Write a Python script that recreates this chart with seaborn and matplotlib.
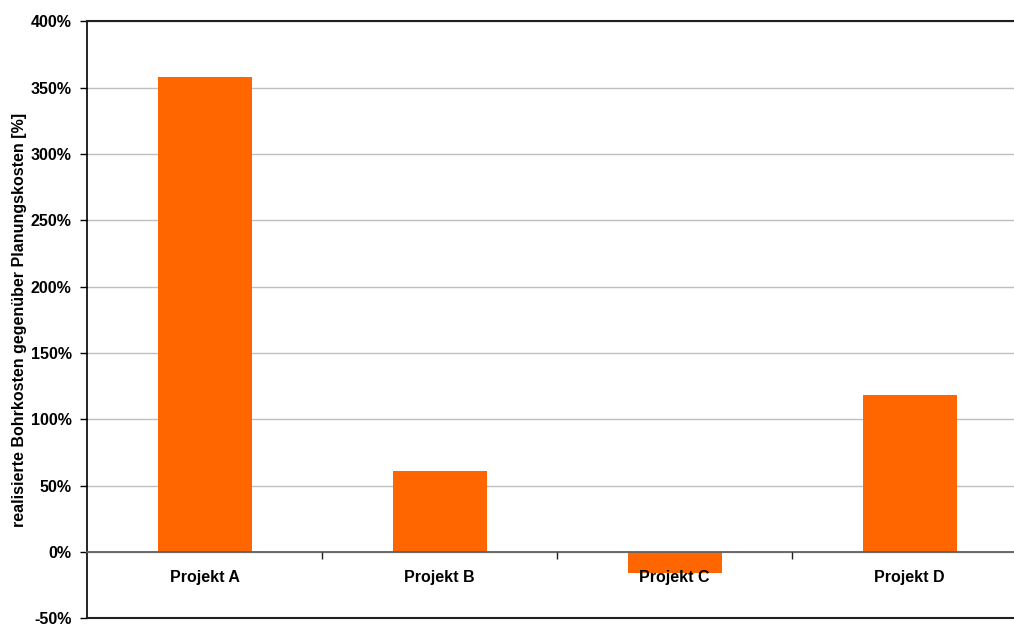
import matplotlib
matplotlib.use("Agg")
import matplotlib.pyplot as plt
from matplotlib.ticker import FixedLocator, FuncFormatter
import seaborn as sns
import pandas as pd

# Cost deviation per project (realised vs. planned drilling costs, in %)
projects = ["Projekt A", "Projekt B", "Projekt C", "Projekt D"]
deviation = [358, 61, -16, 118]
y_ticks = [-50, 0, 50, 100, 150, 200, 250, 300, 350, 400]

sns.set_theme(style="white")
plt.rcParams["font.family"] = ["Liberation Sans", "DejaVu Sans"]
plt.rcParams["text.color"] = "black"
plt.rcParams["xtick.color"] = "black"
plt.rcParams["ytick.color"] = "black"
plt.rcParams["axes.labelcolor"] = "black"

df = pd.DataFrame({"Projekt": projects, "Abweichung": deviation})

fig = plt.figure(figsize=(10.14, 6.24), dpi=100)
# axes extends past the right edge of the canvas
ax = fig.add_axes([87 / 1014, 1 - 618.3 / 624, 940 / 1014, 597 / 624])

sns.barplot(data=df, x="Projekt", y="Abweichung", color="#FF6600",
            saturation=1, width=0.4, linewidth=0, ax=ax)

ax.set_xlim(-0.5, len(projects) - 0.5)
ax.set_ylim(-50, 400)
ax.yaxis.set_major_locator(FixedLocator(y_ticks))
ax.yaxis.set_major_formatter(FuncFormatter(lambda v, _: f"{v:.0f}%"))
ax.grid(axis="y", color="#c0c0c0", linewidth=1)
ax.set_axisbelow(True)
# category labels are drawn on top of the bars
ax.xaxis.set_zorder(5)

# category axis sits on the zero line
ax.spines["bottom"].set_position(("data", 0))
ax.spines["bottom"].set_color("#606060")
ax.spines["bottom"].set_linewidth(1.3)
ax.spines["bottom"].set_zorder(3)
ax.spines["left"].set_color("black")
ax.spines["left"].set_linewidth(1.2)
ax.spines["top"].set_color("#202020")
ax.spines["top"].set_linewidth(1.5)
ax.spines["right"].set_visible(False)
ax.axhline(-50, color="#202020", linewidth=1.5, clip_on=False, zorder=3)

# tick marks between categories, labels centred on the bars
ax.xaxis.set_major_locator(FixedLocator([i + 0.5 for i in range(len(projects) - 1)]))
ax.xaxis.set_minor_locator(FixedLocator(list(range(len(projects)))))
ax.set_xticklabels([], minor=False)
ax.set_xticklabels(projects, minor=True)
ax.tick_params(axis="x", which="major", direction="out", length=5, width=1,
               color="#202020", bottom=True)
ax.tick_params(axis="x", which="minor", length=0, pad=13, labelsize=11.5,
               labelcolor="black")
for lbl in ax.get_xticklabels(minor=True):
    lbl.set_fontweight("bold")

ax.tick_params(axis="y", direction="out", length=5, width=1, color="black",
               left=True, labelsize=11.5, pad=6, labelcolor="black")
for lbl in ax.get_yticklabels():
    lbl.set_fontweight("bold")

ax.set_xlabel("")
ax.set_ylabel("realisierte Bohrkosten gegenüber Planungskosten [%]",
              fontsize=11.5, fontweight="bold", color="black")
ax.yaxis.set_label_coords(-0.064, 0.50)

fig.savefig("out.png", dpi=100)
